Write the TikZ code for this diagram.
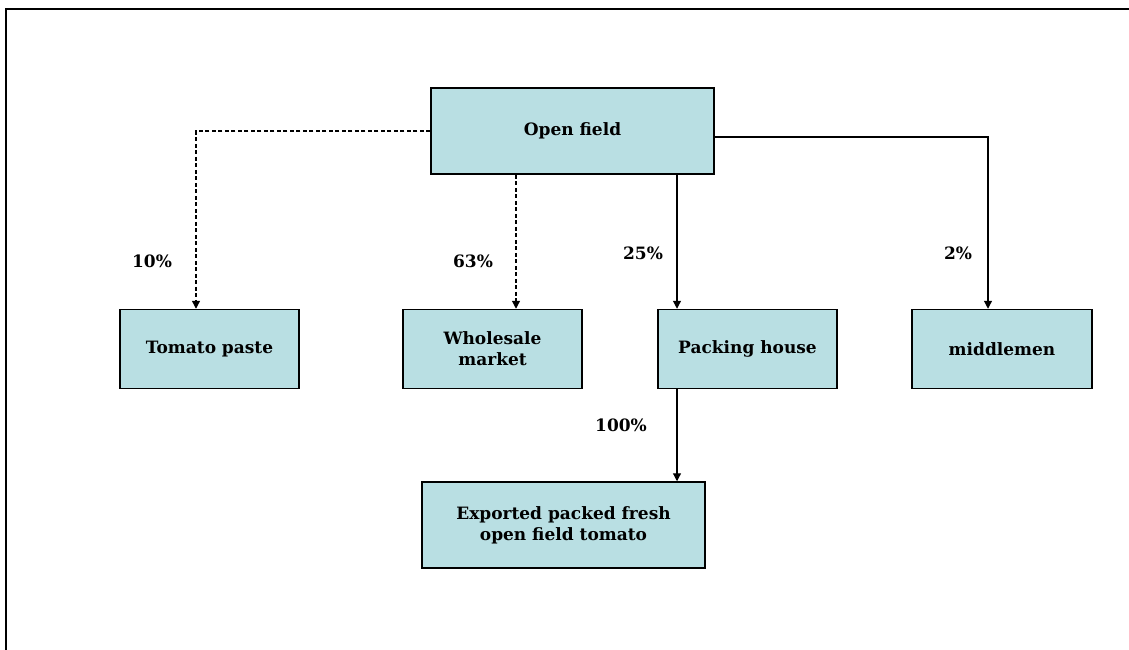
\documentclass[tikz,border=0pt]{standalone}
\usepackage{fontspec}
\setmainfont{DejaVu Serif}
\usetikzlibrary{arrows.meta}
\definecolor{boxfill}{HTML}{B9DFE3}
\tikzset{
  box/.style={draw=black, line width=1.5pt, fill=boxfill, inner sep=0pt, align=center,
    font=\fontsize{17}{21}\selectfont\bfseries},
  conn/.style={line width=1.2pt, -{Triangle[length=8pt,width=8pt]}},
  dconn/.style={conn, dash pattern=on 4pt off 2.5pt},
  pct/.style={font=\fontsize{17}{20}\selectfont\bfseries, inner sep=0pt}
}
\begin{document}
\begin{tikzpicture}[x=1pt,y=-1pt]
\useasboundingbox (0,0) rectangle (1129,649);
\draw[line width=2.5pt] (6,650) -- (6,9) -- (1130,9);
\node[box, minimum width=283pt, minimum height=86pt] (open) at (572.5,131) {Open field};
\node[box, minimum width=179pt, minimum height=79pt] (tom) at (209.5,349) {Tomato paste};
\node[box, minimum width=179pt, minimum height=79pt] (whole) at (492.5,349) {Wholesale\\market};
\node[box, minimum width=179pt, minimum height=79pt] (pack) at (747.5,349) {Packing house};
\node[box, minimum width=180pt, minimum height=79pt] (mid) at (1002,349) {middlemen};
\node[box, minimum width=283pt, minimum height=86pt] (exp) at (563.5,525) {Exported packed fresh\\open field tomato};
\coordinate (tomin) at ([xshift=-13.5pt]tom.north);
\coordinate (wholein) at ([xshift=23.5pt]whole.north);
\coordinate (packin) at ([xshift=-70.5pt]pack.north);
\coordinate (packout) at ([xshift=-70.5pt]pack.south);
\coordinate (midin) at ([xshift=-14pt]mid.north);
\coordinate (openr) at ([yshift=-6pt]open.east);
\draw[dconn] (open.west) -| (tomin);
\draw[dconn] (open.south -| wholein) -- (wholein);
\draw[conn] (open.south -| packin) -- (packin);
\draw[conn] (openr) -| (midin);
\draw[conn] (packout) -- (packout |- exp.north);
\node[pct] (l10) at (152,261) {10\%};
\node[pct] (l63) at (473,261) {63\%};
\node[pct] (l25) at (643,253) {25\%};
\node[pct] (l2) at (958,253) {2\%};
\node[pct] (l100) at (621,425) {100\%};
\end{tikzpicture}
\end{document}
